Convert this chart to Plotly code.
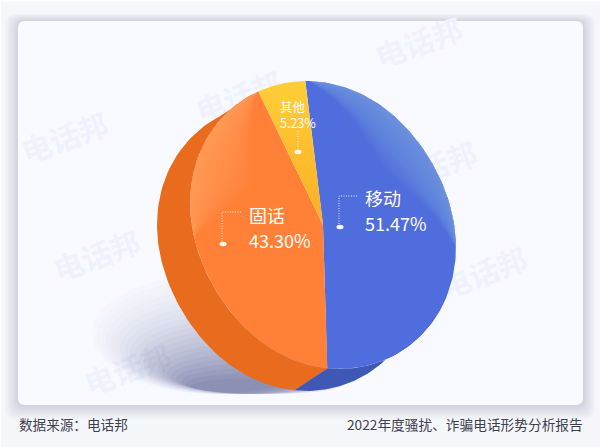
#!/usr/bin/env python
import numpy as np
import plotly.graph_objects as go

# Chart data
categories = ["移动", "固话", "其他"]
shares = [51.47, 43.30, 5.23]
share_labels = ["51.47%", "43.30%", "5.23%"]
source_text = "数据来源:电话邦"
report_text = "2022年度骚扰、诈骗电话形势分析报告"
watermark = "电话邦"

FONT = "Noto Sans CJK SC"
W, H = 600, 447

# Tilted disc: the face outline is r(angle) around the apex, the side is the face swept by OFFSET
CX, CY = 323, 225
R_MEAN, R_TILT, TILT = 137, 11.5, -30
OFFSET = (-33, 22)
START = -7  # degrees clockwise from straight up


def face(t_deg, dx=0.0, dy=0.0):
    t = np.radians(t_deg)
    r = R_MEAN + R_TILT * np.cos(2 * (t - np.radians(TILT)))
    return CX + r * np.sin(t) + dx, CY - r * np.cos(t) + dy


def rounded_rect(x0, y0, x1, y1, r):
    return (
        f"M{x0 + r},{y0}L{x1 - r},{y0}Q{x1},{y0} {x1},{y0 + r}"
        f"L{x1},{y1 - r}Q{x1},{y1} {x1 - r},{y1}"
        f"L{x0 + r},{y1}Q{x0},{y1} {x0},{y1 - r}"
        f"L{x0},{y0 + r}Q{x0},{y0} {x0 + r},{y0}Z"
    )


# Slice limits in degrees, from the shares
edges = START + np.cumsum([0] + shares) * 3.6

base_colors = {"移动": "#4f6ddc", "固话": "#ff8036"}
side_colors = {"移动": "#3f58b6", "固话": "#e96c1e"}

shapes = []

# Page edge and soft card shadow
for i in range(9):
    shapes.append(dict(
        type="path", layer="below", line_width=0,
        path=rounded_rect(18 - 13 + i * 1.5, 21 - 7 + i * 0.8, 583 + 12 - i * 1.3, 405 + 14 - i * 1.5, 10),
        fillcolor="rgba(90,95,125,0.024)",
    ))
shapes.append(dict(
    type="path", layer="below", line_width=0,
    path=rounded_rect(18, 21, 583, 405, 7), fillcolor="#f9faff",
))
shapes.append(dict(type="rect", layer="below", line_width=0, fillcolor="white", x0=0, x1=W, y0=0, y1=1.5))
shapes.append(dict(type="rect", layer="below", line_width=0, fillcolor="white", x0=0, x1=1, y0=0, y1=H))

# Watermarks sit under the disc, so they are shape labels in the below layer
for wx, wy in [(66, 141), (240, 100), (420, 46), (435, 170), (98, 259), (485, 276), (129, 373)]:
    shapes.append(dict(
        type="rect", layer="below", line_width=0, fillcolor="rgba(0,0,0,0)",
        x0=wx - 55, x1=wx + 55, y0=wy - 22, y1=wy + 22,
        label=dict(
            text=watermark, textangle=-20, textposition="middle center",
            font=dict(family=FONT, size=30, color="#eff2fc", weight="bold"),
        ),
    ))

# Ground shadow, nested translucent ellipses that all touch the same bottom line
for k in np.linspace(1, 0, 22):
    half_w = 75 + 48 * k
    half_h = 8 + 52 * k
    mid_x = 265 - 50 * k
    alpha = 0.014 + 0.07 * (1 - k) ** 2
    shapes.append(dict(
        type="circle", layer="below", line_width=0, fillcolor=f"rgba(70,78,135,{alpha:.4f})",
        x0=mid_x - half_w, x1=mid_x + half_w, y0=394 - 2 * half_h, y1=394,
    ))

fig = go.Figure()

# Side of the disc
side_t = {"移动": np.linspace(120, edges[1], 50), "固话": np.linspace(edges[1], edges[2] - 2, 80)}
for name, ts in side_t.items():
    x0, y0 = face(ts)
    x1, y1 = face(ts, *OFFSET)
    fig.add_trace(go.Scatter(
        x=np.concatenate([x0, x1[::-1]]), y=np.concatenate([y0, y1[::-1]]),
        mode="lines", fill="toself", fillcolor=side_colors[name],
        line=dict(width=0), hoverinfo="skip", showlegend=False,
    ))

# Top face slices, one per category
for i, name in enumerate(categories):
    ts = np.linspace(edges[i], edges[i + 1], 120)
    x, y = face(ts)
    style = dict(fillcolor=base_colors[name]) if name in base_colors else dict(
        fillgradient=dict(type="vertical", colorscale=[[0, "#ffcd38"], [1, "#fdae26"]], start=84, stop=225),
    )
    fig.add_trace(go.Scatter(
        x=np.concatenate([[CX], x, [CX]]), y=np.concatenate([[CY], y, [CY]]),
        mode="lines", fill="toself", name=name, text=share_labels[i],
        line=dict(width=0), hoverinfo="name+text", showlegend=False, **style,
    ))


def add_glow(t0, t1, color, depth, layers=24):
    """Stacked lunes along the rim, they taper to nothing at both ends of the arc."""
    ts = np.linspace(t0, t1, 80)
    bump = np.sin(np.linspace(0, np.pi, 80))
    x0, y0 = face(ts)
    for d in np.linspace(depth / layers, depth, layers):
        x1 = CX + (x0 - CX) * (1 - d * bump)
        y1 = CY + (y0 - CY) * (1 - d * bump)
        fig.add_trace(go.Scatter(
            x=np.concatenate([x0, x1[::-1]]), y=np.concatenate([y0, y1[::-1]]),
            mode="lines", fill="toself", fillcolor=color,
            line=dict(width=0), hoverinfo="skip", showlegend=False,
        ))


add_glow(edges[0] + 1, 100, "rgba(170,210,245,0.024)", 0.34)
add_glow(edges[2] - 70, edges[2] - 0.5, "rgba(255,205,120,0.03)", 0.42)

# Dotted leaders and their end dots
leaders = [
    ([357, 339, 339], [196, 196, 225], (340, 227)),
    ([241, 222, 222], [212, 212, 242], (223, 244)),
    ([298, 298], [131, 150], (298, 152)),
]
for lx, ly, (dot_x, dot_y) in leaders:
    fig.add_trace(go.Scatter(
        x=lx, y=ly, mode="lines", hoverinfo="skip", showlegend=False,
        line=dict(color="rgba(255,255,255,0.85)", width=1, dash="1px,1.5px"),
    ))
    shapes.append(dict(
        type="circle", layer="above", line_width=0, fillcolor="#fdf6ee",
        x0=dot_x - 3.5, x1=dot_x + 3.5, y0=dot_y - 2.2, y1=dot_y + 2.2,
    ))

annotations = []
label_pos = [(363, 198, 223, 18), (247, 215, 240, 18)]
for name, pct, (ax, y_name, y_pct, size) in zip(categories, share_labels, label_pos):
    for text, ay in [(name, y_name), (pct, y_pct)]:
        annotations.append(dict(
            x=ax, y=ay, text=text, showarrow=False, xanchor="left", yanchor="middle",
            height=size, font=dict(family=FONT, size=size, color="#fffdf9"),
        ))
# The small slice keeps its two lines in one text
annotations.append(dict(
    x=298, y=114, text=f"{categories[2]}<br>{share_labels[2]}", showarrow=False,
    xanchor="center", yanchor="middle", align="left",
    font=dict(family=FONT, size=12.5, color="#fffdf9"),
))
annotations.append(dict(
    x=17, y=424, text=source_text.replace(":", "\uff1a"), showarrow=False, xanchor="left", yanchor="middle",
    font=dict(family=FONT, size=13.6, color="#3f3f52"),
))
annotations.append(dict(
    x=585, y=424, text=report_text, showarrow=False, xanchor="right", yanchor="middle",
    font=dict(family=FONT, size=13.7, color="#3f3f52"),
))

fig.update_layout(
    width=W, height=H,
    margin=dict(l=0, r=0, t=0, b=0),
    paper_bgcolor="#f6f7fa", plot_bgcolor="rgba(0,0,0,0)",
    xaxis=dict(range=[0, W], visible=False, fixedrange=True),
    yaxis=dict(range=[H, 0], visible=False, fixedrange=True),
    shapes=shapes, annotations=annotations,
)
fig.write_html(
    "out.html",
    config=dict(displayModeBar=False),
    post_script="document.body.style.margin='0';document.body.style.overflow='hidden';",
)
